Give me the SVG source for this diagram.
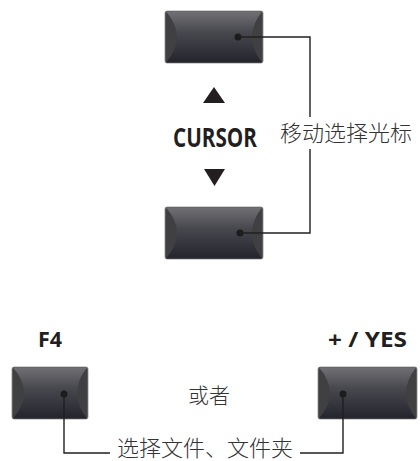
<svg xmlns="http://www.w3.org/2000/svg" width="420" height="461" viewBox="0 0 420 461">
<defs>
<linearGradient id="body" x1="0" y1="0" x2="0" y2="1">
<stop offset="0" stop-color="#707074"/>
<stop offset="0.4" stop-color="#48484f"/>
<stop offset="1" stop-color="#24242d"/>
</linearGradient>
</defs>
<style>
.end{fill:#404043;stroke:#8a8a8c;stroke-width:0.8}
.body{fill:url(#body)}
.dot{fill:#1c1c1e}
.conn{fill:none;stroke:#231f20;stroke-width:1.4}
.lbl{font-family:"Open Sans","Liberation Sans",sans-serif;font-weight:700;fill:#231f20}
.cjk{font-family:"Noto Sans CJK SC","Noto Sans",sans-serif;font-weight:300;fill:#333}
</style>
<rect width="420" height="461" fill="#fff"/>
<g id="cursor-up">
<rect class="end" x="165" y="11" width="98" height="52" rx="2"/>
<path class="body" d="M166,11.5 H262 Q242,37 262,62.5 H166 Q188,37 166,11.5 Z"/>
<circle class="dot" cx="238" cy="37" r="3.5"/>
</g>
<g id="cursor-down">
<rect class="end" x="165" y="207" width="98" height="52" rx="2"/>
<path class="body" d="M166,207.5 H262 Q242,233 262,258.5 H166 Q188,233 166,207.5 Z"/>
<circle class="dot" cx="240" cy="233" r="3.5"/>
</g>
<g id="cursor-label">
<polygon points="203,103 225,103 214,87" fill="#231f20"/>
<text class="lbl" x="173" y="147" font-size="26" textLength="84" lengthAdjust="spacingAndGlyphs">CURSOR</text>
<polygon points="204,169 225,169 214.5,186" fill="#231f20"/>
</g>
<g id="f4">
<text class="lbl" x="38" y="347" font-size="21" textLength="24" lengthAdjust="spacingAndGlyphs">F4</text>
<rect class="end" x="12" y="367" width="76" height="52" rx="2"/>
<path class="body" d="M13,367.5 H87 Q67,393 87,418.5 H13 Q35,393 13,367.5 Z"/>
<circle class="dot" cx="64" cy="394" r="3.5"/>
</g>
<g id="yes">
<text class="lbl" x="328" y="347" font-size="21" textLength="79" lengthAdjust="spacingAndGlyphs">+ / YES</text>
<rect class="end" x="318" y="367" width="99" height="52" rx="2"/>
<path class="body" d="M319,367.5 H416 Q396,393 416,418.5 H319 Q341,393 319,367.5 Z"/>
<circle class="dot" cx="343" cy="394" r="3.5"/>
</g>
<text class="cjk" x="188" y="403" font-size="21">或者</text>
<g id="connectors">
<path class="conn" d="M238,37 H310 V117"/>
<path class="conn" d="M310,149 V233 H240"/>
<path class="conn" d="M64,394 V453 H110"/>
<path class="conn" d="M300,453 H343 V394"/>
</g>
<text class="cjk" x="280" y="141" font-size="22">移动选择光标</text>
<text class="cjk" x="117" y="456" font-size="22">选择文件、文件夹</text>
</svg>
